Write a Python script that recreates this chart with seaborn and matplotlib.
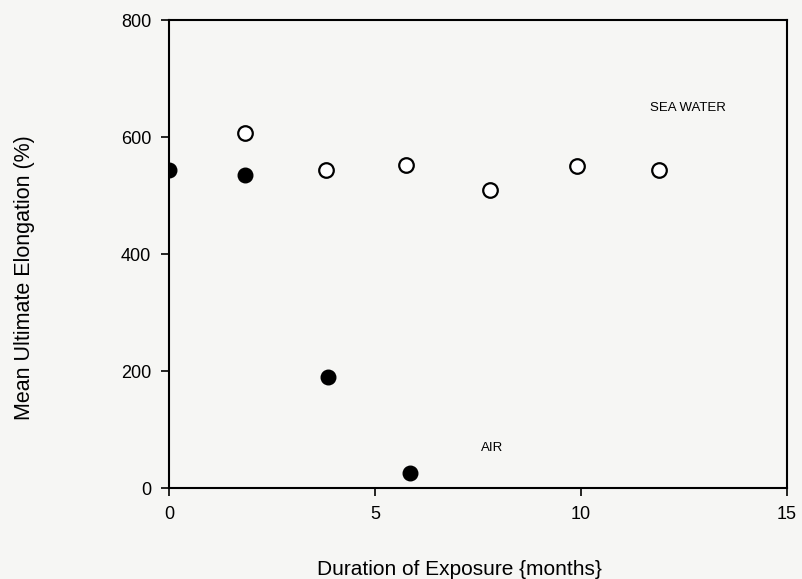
import matplotlib
matplotlib.use('Agg')
import matplotlib.pyplot as plt
import pandas as pd
import seaborn as sns

# values
sea_months = [1.85, 3.8, 5.75, 7.8, 9.9, 11.9]
sea_elong = [607, 544, 552, 509, 550, 544]
air_months = [0.0, 1.85, 3.85, 5.85]
air_elong = [544, 535, 190, 26]

sea = pd.DataFrame({'months': sea_months, 'elong': sea_elong})
air = pd.DataFrame({'months': air_months, 'elong': air_elong})

sns.set_style('ticks')
plt.rcParams['font.family'] = ['Liberation Sans', 'DejaVu Sans']
plt.rcParams['text.color'] = 'black'
plt.rcParams['axes.labelcolor'] = 'black'
plt.rcParams['xtick.color'] = 'black'
plt.rcParams['ytick.color'] = 'black'

paper = '#f6f6f4'
fig = plt.figure(figsize=(8.02, 5.79), dpi=100, facecolor=paper)
ax = fig.add_axes([0.211, 0.157, 0.77, 0.808])
ax.set_facecolor(paper)

sns.scatterplot(data=sea, x='months', y='elong', ax=ax, s=110, marker='o',
                facecolor='white', edgecolor='black', linewidth=1.6, zorder=3)
sns.scatterplot(data=air, x='months', y='elong', ax=ax, s=110, marker='o',
                color='black', edgecolor='black', linewidth=1.0, zorder=3)

ax.text(12.6, 650, 'SEA WATER', fontsize=9.5, ha='center', va='center')
ax.text(7.85, 68, 'AIR', fontsize=9.5, ha='center', va='center')

ax.set_xlim(0, 15)
ax.set_ylim(0, 800)
ax.set_xticks([0, 5, 10, 15])
ax.set_yticks([0, 200, 400, 600, 800])
ax.tick_params(direction='out', length=6, width=1.2, labelsize=13, pad=7)
for sp in ax.spines.values():
    sp.set_linewidth(1.5)
    sp.set_color('black')

ax.set_xlabel('Duration of Exposure {months}', fontsize=15)
ax.set_ylabel('Mean Ultimate Elongation (%)', fontsize=15.5)
ax.xaxis.set_label_coords(0.47, -0.175)
ax.xaxis.label.set_va('center')
ax.yaxis.set_label_coords(-0.235, 0.45)
ax.yaxis.label.set_va('center')

fig.savefig('out.png', dpi=100, facecolor=paper)
